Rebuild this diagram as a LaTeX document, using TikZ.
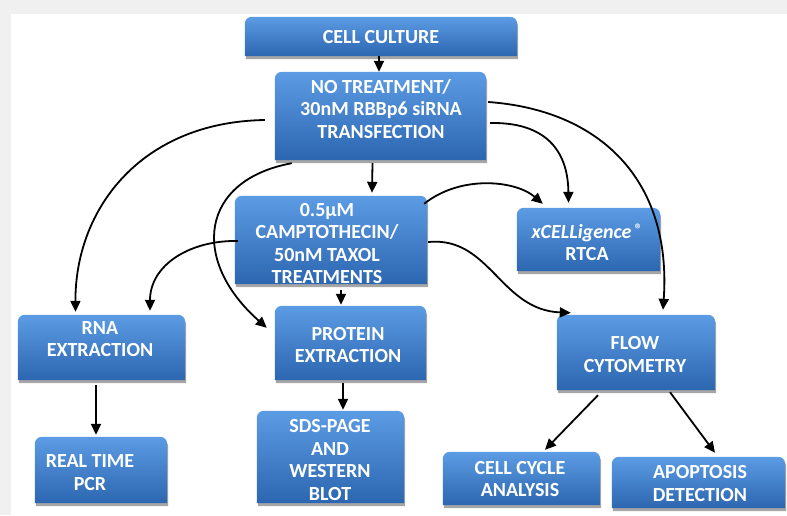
\documentclass[tikz,border=0pt]{standalone}
\usepackage{fontspec}
\setmainfont{Carlito}
\usetikzlibrary{arrows.meta,calc,shadows}
\definecolor{btop}{RGB}{92,156,228}
\definecolor{bmid}{RGB}{60,125,208}
\definecolor{bbot}{RGB}{44,102,176}
\begin{document}
\begin{tikzpicture}[x=1pt,y=-1pt,
  bx/.style={draw=none, fill=none, inner sep=0pt, rectangle},
  boxfill/.style={top color=btop, middle color=bmid, bottom color=bbot,
    drop shadow={shadow xshift=1pt, shadow yshift=-3pt, opacity=0.35, fill=black}},
  txt/.style={text=white, font=\fontsize{20}{22.5}\selectfont\bfseries, align=center, inner sep=0pt},
  arr/.style={line width=1.8pt, -{Triangle[length=11pt,width=10pt]}}]
\useasboundingbox (0,0) rectangle (787,515);
\fill[black!6] (0,0) rectangle (787,515);
\fill[white] (11,14) rectangle (787,515);
% box frames (named)
\node[bx, minimum width=272pt, minimum height=39pt] (cc)  at (381,36.5) {};
\node[bx, minimum width=211pt, minimum height=88pt] (nt)  at (380.5,116) {};
\node[bx, minimum width=192pt, minimum height=88pt] (ct)  at (331,240) {};
\node[bx, minimum width=143pt, minimum height=63pt] (xc)  at (588.5,239.5) {};
\node[bx, minimum width=167pt, minimum height=65pt] (rna) at (101.5,347.5) {};
\node[bx, minimum width=151pt, minimum height=74pt] (pe)  at (350.5,343) {};
\node[bx, minimum width=158pt, minimum height=75pt] (fc)  at (636,352.5) {};
\node[bx, minimum width=132pt, minimum height=66pt] (rt)  at (101,470) {};
\node[bx, minimum width=147pt, minimum height=92pt] (sds) at (330.5,457) {};
\node[bx, minimum width=157pt, minimum height=53pt] (cca) at (521.5,478.5) {};
\node[bx, minimum width=173pt, minimum height=51pt] (ap)  at (698.5,482.5) {};
\foreach \n in {cc,nt,ct,xc,rna,pe,fc,rt,sds,cca,ap}{
  \path[boxfill] (\n.south west) [rounded corners=7pt] -- (\n.north west) -- (\n.north east) [sharp corners] -- (\n.south east) -- cycle;
}
% texts
\node[txt] (cct)  at (381,37) {CELL CULTURE};
\node[txt] (ntt)  at (381,109) {NO TREATMENT/\\30nM RBBp6 siRNA\\TRANSFECTION};
\node[txt] (ctt)  at (327,243.5) {0.5µM\\CAMPTOTHECIN/\\50nM TAXOL\\TREATMENTS};
\node[txt] (xct)  at (587,242.5) {\textit{xCELLigence}\,\raisebox{4pt}{\fontsize{15}{15}\selectfont ®}\\RTCA};
\node[txt] (rnat) at (100,339) {RNA\\EXTRACTION};
\node[txt] (pet)  at (348,345) {PROTEIN\\EXTRACTION};
\node[txt] (fct)  at (635,354.5) {FLOW\\CYTOMETRY};
\node[txt] (rtt)  at (90,472.5) {REAL TIME\\PCR};
\node[txt] (sdst) at (330,460) {SDS-PAGE\\AND\\WESTERN\\BLOT};
\node[txt] (ccat) at (520,479) {CELL CYCLE\\ANALYSIS};
\node[txt] (apt)  at (700,483.5) {APOPTOSIS\\DETECTION};
% connectors
\draw[arr] ($(cc.south)+(-2,0)$) -- ($(nt.north)+(-1.5,0)$);
\draw[arr] ($(nt.south)+(-8,3)$) -- ($(ct.north)+(41,-3)$);
\draw[arr] ($(nt.west)+(-10,4)$) .. controls (140,122) and (75,210) .. ($(rna.north)+(-26,-3)$);
\draw[arr] ($(nt.south west)+(17,3)$) .. controls (200,180) and (190,260) .. ($(pe.north west)+(-8,22)$);
\draw[arr] ($(nt.east)+(4,7)$) .. controls (545,122) and (568,150) .. ($(xc.north)+(-20,-5)$);
\draw[arr] ($(nt.east)+(2,-14)$) .. controls (600,110) and (672,180) .. ($(fc.north)+(27,-5)$);
\draw[arr] ($(ct.north east)+(-3,8)$) .. controls (460,175) and (515,180) .. ($(xc.north west)+(26,-4)$);
\draw[arr] ($(ct.east)+(1,2)$) .. controls (490,236) and (500,310) .. ($(fc.north west)+(14,-2)$);
\draw[arr] ($(ct.west)+(3,1)$) .. controls (190,240) and (150,265) .. ($(rna.north)+(48.5,-4)$);
\draw[arr] ($(ct.south)+(10,6)$) -- ($(pe.north)+(-9.5,-1)$);
\draw[arr] ($(rna.south)+(-5.5,5)$) -- ($(rt.north)+(-5,-2)$);
\draw[arr] ($(pe.south)+(-7.5,3)$) -- ($(sds.north)+(12.5,-1)$);
\draw[arr] ($(fc.south)+(-38,5)$) -- ($(cca.north)+(23.5,-2)$);
\draw[arr] ($(fc.south)+(34,2)$) -- ($(ap.north)+(16.5,-4)$);
\end{tikzpicture}
\end{document}
